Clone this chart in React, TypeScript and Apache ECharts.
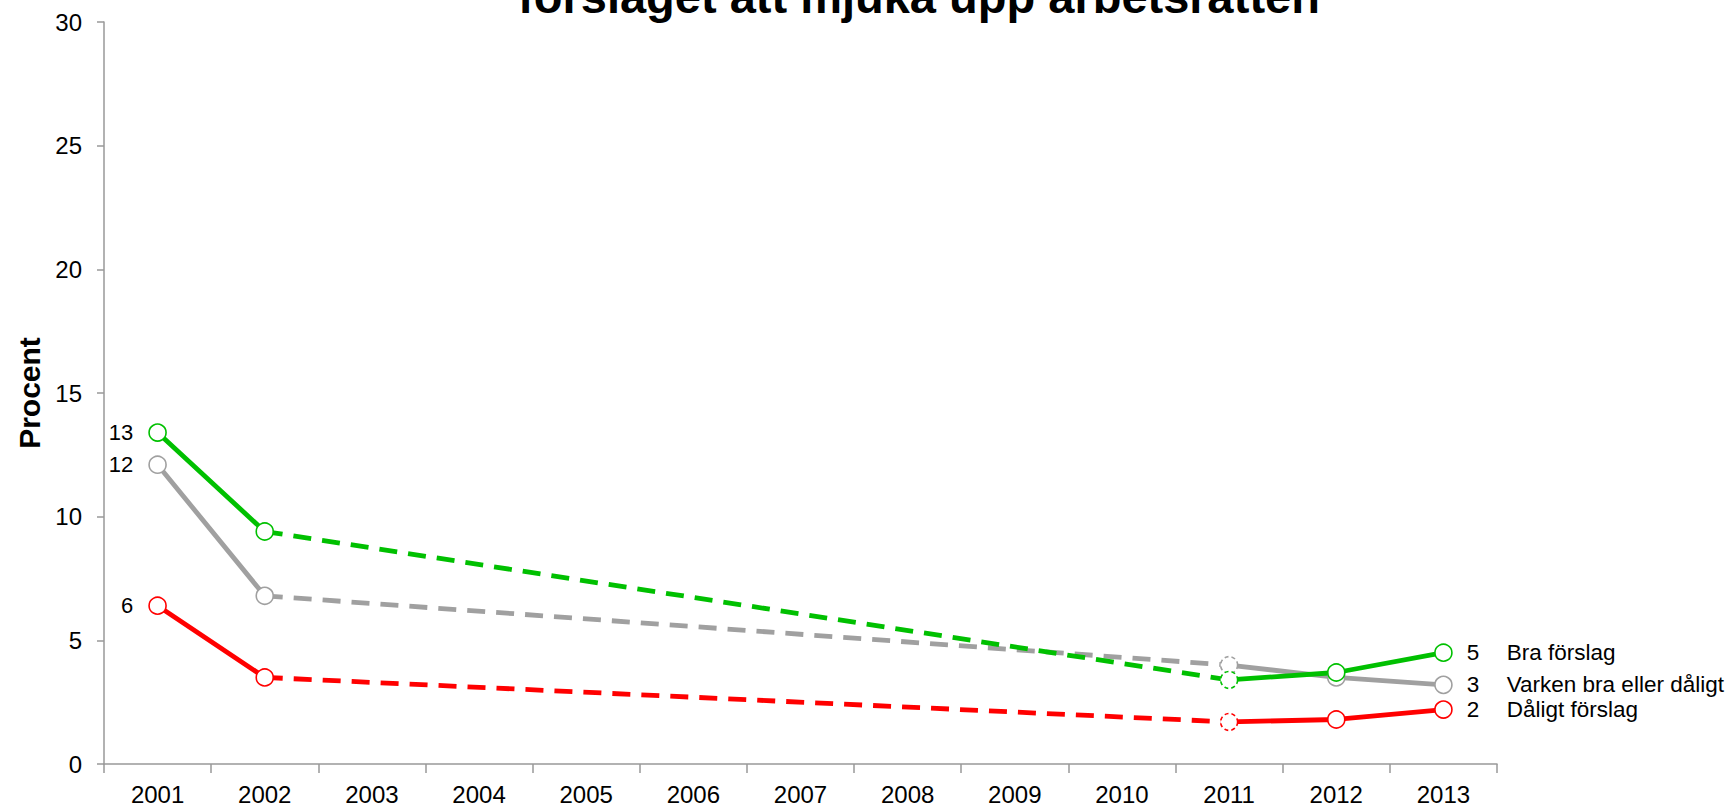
import React, { useEffect, useRef } from "react";
import * as echarts from "echarts";

const categories = ["2001", "2002", "2003", "2004", "2005", "2006", "2007", "2008", "2009", "2010", "2011", "2012", "2013"];
const braForslag = [13.4, 9.4, null, null, null, null, null, null, null, null, 3.4, 3.7, 4.5];
const varken = [12.1, 6.8, null, null, null, null, null, null, null, null, 4.0, 3.5, 3.2];
const daligt = [6.4, 3.5, null, null, null, null, null, null, null, null, 1.7, 1.8, 2.2];
const seriesNames = ["Bra förslag", "Varken bra eller dåligt", "Dåligt förslag"];
const seriesColors = ["#00c000", "#a0a0a0", "#ff0000"];
const titleText = "förslaget att mjuka upp arbetsrätten";
const yAxisName = "Procent";
const dashedIndex = 10;

const FONT = "'Liberation Sans', Arial, sans-serif";

function buildSeries(values: (number | null)[], name: string, color: string) {
  const last = values.length - 1;
  const solidData = values.map((v, i) => {
    if (v === null) return null;
    const item: any = { value: v };
    if (i === dashedIndex) {
      item.itemStyle = { borderType: [4, 3] };
    }
    if (i === 0) {
      item.label = {
        show: true,
        position: "left",
        distance: 15,
        formatter: () => String(Math.round(v)),
        fontSize: 22,
        color: "#000",
        fontFamily: FONT,
      };
    }
    if (i === last) {
      item.label = {
        show: true,
        position: "right",
        distance: 14,
        formatter: () => `{v|${Math.round(v)}}{n|${name}}`,
        rich: {
          v: { width: 40, fontSize: 22.5, color: "#000", fontFamily: FONT },
          n: { fontSize: 22.5, color: "#000", fontFamily: FONT },
        },
      };
    }
    return item;
  });
  let before = -1;
  let after = -1;
  for (let i = 0; i < values.length; i++) {
    if (values[i] !== null && i + 1 < values.length && values[i + 1] === null && before < 0) before = i;
  }
  for (let i = before + 1; i < values.length; i++) {
    if (values[i] !== null) { after = i; break; }
  }
  const bridgeData = values.map((v, i) => (i === before || i === after ? v : null));
  return [
    {
      type: "line",
      name: name + " (gap)",
      data: bridgeData,
      connectNulls: true,
      showSymbol: false,
      symbol: "none",
      z: 2,
      lineStyle: { color, width: 4.8, type: [18, 11] },
      silent: true,
    },
    {
      type: "line",
      name,
      data: solidData,
      connectNulls: false,
      symbol: "circle",
      symbolSize: 17,
      z: 3,
      lineStyle: { color, width: 4.8 },
      itemStyle: { color: "#fff", borderColor: color, borderWidth: 1.6 },
      silent: true,
    },
  ];
}

export default function App() {
  const ref = useRef<HTMLDivElement>(null);
  useEffect(() => {
    if (!ref.current) return;
    const chart = echarts.init(ref.current, undefined, { renderer: "svg" });
    const series: any[] = [
      ...buildSeries(varken, seriesNames[1], seriesColors[1]),
      ...buildSeries(daligt, seriesNames[2], seriesColors[2]),
      ...buildSeries(braForslag, seriesNames[0], seriesColors[0]),
    ];
    chart.setOption({
      animation: false,
      backgroundColor: "#fff",
      textStyle: { fontFamily: FONT },
      grid: { left: 104, right: 235, top: 22, bottom: 44, containLabel: false },
      graphic: [
        {
          type: "text",
          x: 919,
          y: -4,
          style: {
            text: titleText,
            font: `bold 47px ${FONT}`,
            fill: "#000",
            align: "center",
            verticalAlign: "middle",
          },
        },
      ],
      xAxis: {
        type: "category",
        data: categories,
        boundaryGap: true,
        axisLine: { lineStyle: { color: "#999", width: 1.5 } },
        axisTick: { show: true, length: 9, interval: 0, lineStyle: { color: "#999", width: 1.5 } },
        axisLabel: { interval: 0, margin: 18, fontSize: 24, color: "#000", fontFamily: FONT },
        splitLine: { show: false },
      },
      yAxis: {
        type: "value",
        min: 0,
        max: 30,
        interval: 5,
        name: yAxisName,
        nameLocation: "middle",
        nameGap: 57,
        nameTextStyle: { fontSize: 30, fontWeight: "bold", color: "#000", fontFamily: FONT },
        axisLine: { show: true, lineStyle: { color: "#999", width: 1.5 } },
        axisTick: { show: true, length: 7, lineStyle: { color: "#999", width: 1.5 } },
        axisLabel: { margin: 22, fontSize: 24, color: "#000", fontFamily: FONT },
        splitLine: { show: false },
      },
      series,
    });
    return () => chart.dispose();
  }, []);
  return <div ref={ref} style={{ position: "fixed", left: 0, top: 0, width: 1732, height: 808 }} />;
}
